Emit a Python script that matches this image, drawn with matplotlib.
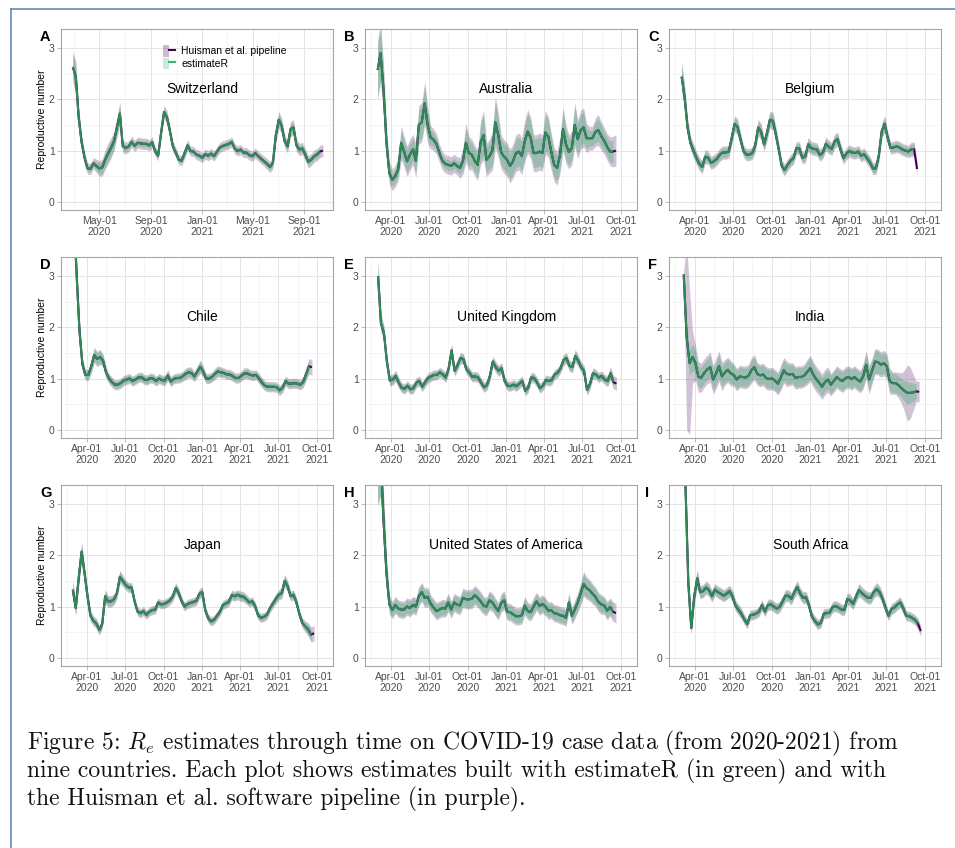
# -*- coding: utf-8 -*-
# Re estimates through time for nine countries (estimateR vs Huisman et al. pipeline)
import numpy as np
import pandas as pd
import matplotlib
matplotlib.use('Agg')
import matplotlib.pyplot as plt
import matplotlib.dates as mdates
from matplotlib.patches import Patch
from matplotlib.lines import Line2D
from matplotlib.legend_handler import HandlerTuple

plt.rcParams['font.family'] = ['Liberation Sans', 'DejaVu Sans']
plt.rcParams['mathtext.fontset'] = 'cm'

## Daten (wöchentliche Werte)
# Switzerland
ch_start = '2020-02-28'
ch_est = [2.63, 2.45, 1.65, 1.16, 0.86, 0.65, 0.64, 0.75, 0.70, 0.65,
          0.67, 0.82, 0.94, 1.05, 1.18, 1.45, 1.72, 1.08, 1.05, 1.08,
          1.17, 1.09, 1.15, 1.14, 1.13, 1.13, 1.10, 1.16, 0.98, 0.90,
          1.34, 1.75, 1.65, 1.38, 1.08, 0.96, 0.82, 0.80, 0.95, 1.10,
          0.99, 0.98, 0.92, 0.90, 0.86, 0.93, 0.90, 0.94, 0.89, 0.98,
          1.06, 1.09, 1.11, 1.13, 1.17, 1.04, 0.99, 1.02, 0.96, 0.96,
          0.91, 0.89, 0.95, 0.89, 0.84, 0.79, 0.74, 0.68, 0.76, 1.30,
          1.60, 1.48, 1.18, 1.08, 1.42, 1.45, 1.10, 1.02, 1.04, 0.92,
          0.78, 0.82, 0.89, 0.92, 0.98]
ch_hw = [0.25, 0.25, 0.15, 0.10, 0.07, 0.06, 0.06, 0.06, 0.08, 0.10,
         0.12, 0.14, 0.15, 0.15, 0.14, 0.15, 0.18, 0.08, 0.06, 0.06,
         0.06, 0.06, 0.06, 0.06, 0.06, 0.06, 0.06, 0.06, 0.05, 0.05,
         0.06, 0.08, 0.08, 0.07, 0.06, 0.05, 0.05, 0.05, 0.06, 0.06,
         0.05, 0.05, 0.05, 0.05, 0.05, 0.05, 0.05, 0.05, 0.05, 0.05,
         0.05, 0.05, 0.05, 0.05, 0.05, 0.05, 0.05, 0.05, 0.05, 0.05,
         0.05, 0.05, 0.05, 0.05, 0.05, 0.05, 0.06, 0.06, 0.07, 0.10,
         0.12, 0.10, 0.08, 0.08, 0.10, 0.10, 0.08, 0.07, 0.07, 0.07,
         0.07, 0.07, 0.07, 0.07, 0.07]
ch_tail = [1.0]

# Australia
au_start = '2020-03-01'
au_est = [2.57, 2.90, 2.20, 1.15, 0.55, 0.43, 0.50, 0.64, 1.15, 0.98,
          0.79, 0.92, 1.02, 0.80, 1.50, 1.55, 1.92, 1.50, 1.26, 1.21,
          1.13, 0.95, 0.80, 0.74, 0.72, 0.70, 0.75, 0.70, 0.66, 0.80,
          1.15, 0.95, 0.92, 0.80, 0.72, 1.16, 1.30, 0.82, 0.89, 1.00,
          1.55, 1.30, 0.96, 0.88, 0.82, 0.70, 0.79, 0.95, 0.98, 0.89,
          1.18, 1.37, 1.25, 0.95, 0.95, 0.98, 0.95, 1.35, 1.27, 0.98,
          0.72, 0.66, 0.92, 1.42, 1.12, 0.97, 1.05, 1.50, 1.22, 1.40,
          1.45, 1.24, 1.24, 1.24, 1.36, 1.40, 1.28, 1.19, 1.07, 0.98,
          0.98]
au_hw = [0.50, 0.50, 0.40, 0.25, 0.15, 0.13, 0.13, 0.15, 0.25, 0.22,
         0.22, 0.22, 0.22, 0.25, 0.30, 0.30, 0.35, 0.28, 0.15, 0.13,
         0.12, 0.10, 0.10, 0.10, 0.10, 0.10, 0.10, 0.10, 0.12, 0.18,
         0.30, 0.25, 0.22, 0.22, 0.22, 0.35, 0.40, 0.25, 0.25, 0.30,
         0.42, 0.35, 0.25, 0.25, 0.25, 0.25, 0.25, 0.28, 0.28, 0.28,
         0.32, 0.35, 0.32, 0.28, 0.28, 0.28, 0.28, 0.35, 0.32, 0.28,
         0.25, 0.25, 0.28, 0.35, 0.30, 0.25, 0.25, 0.35, 0.30, 0.30,
         0.30, 0.20, 0.15, 0.15, 0.20, 0.22, 0.20, 0.18, 0.18, 0.20,
         0.22]
au_tail = [1.0]

# Belgium
be_start = '2020-03-01'
be_est = [2.44, 2.05, 1.45, 1.15, 1.00, 0.86, 0.74, 0.68, 0.88, 0.86,
          0.76, 0.79, 0.84, 0.92, 0.96, 0.96, 0.98, 1.24, 1.52, 1.46,
          1.22, 0.99, 0.92, 0.92, 0.95, 1.10, 1.45, 1.37, 1.12, 1.34,
          1.60, 1.58, 1.32, 1.02, 0.70, 0.62, 0.72, 0.80, 0.85, 1.05,
          1.04, 0.86, 0.88, 1.12, 1.05, 1.03, 1.02, 0.91, 0.96, 1.13,
          1.07, 1.03, 1.18, 1.22, 1.02, 0.85, 0.94, 0.99, 0.96, 0.95,
          0.98, 0.90, 0.93, 0.85, 0.77, 0.65, 0.65, 0.90, 1.38, 1.52,
          1.25, 1.05, 1.06, 1.08, 1.06, 1.02, 1.00, 0.98, 1.02, 1.03]
be_hw = [0.25, 0.20, 0.15, 0.10, 0.10, 0.09, 0.09, 0.09, 0.10, 0.09,
         0.09, 0.09, 0.09, 0.09, 0.09, 0.09, 0.09, 0.10, 0.12, 0.12,
         0.10, 0.08, 0.08, 0.08, 0.08, 0.10, 0.12, 0.12, 0.10, 0.12,
         0.13, 0.13, 0.12, 0.10, 0.08, 0.08, 0.08, 0.08, 0.08, 0.09,
         0.09, 0.08, 0.08, 0.10, 0.09, 0.09, 0.09, 0.08, 0.08, 0.10,
         0.09, 0.09, 0.10, 0.10, 0.09, 0.08, 0.08, 0.08, 0.08, 0.08,
         0.08, 0.08, 0.08, 0.08, 0.08, 0.08, 0.08, 0.10, 0.12, 0.12,
         0.10, 0.08, 0.08, 0.08, 0.08, 0.08, 0.08, 0.08, 0.10, 0.10]
be_tail = [0.64]

# Chile
cl_start = '2020-03-01'
cl_est = [4.30, 3.05, 1.92, 1.27, 1.07, 1.07, 1.24, 1.46, 1.38, 1.42,
          1.35, 1.12, 1.00, 0.93, 0.88, 0.88, 0.91, 0.96, 0.98, 1.00,
          0.95, 0.98, 1.02, 1.03, 0.98, 0.97, 1.01, 1.00, 0.95, 1.00,
          0.97, 0.96, 1.06, 0.94, 0.99, 1.01, 1.01, 1.04, 1.09, 1.12,
          1.11, 1.04, 1.13, 1.23, 1.14, 1.00, 1.00, 1.03, 1.09, 1.14,
          1.12, 1.11, 1.08, 1.08, 1.05, 1.01, 1.01, 1.05, 1.10, 1.10,
          1.07, 1.06, 1.07, 1.00, 0.92, 0.86, 0.84, 0.84, 0.84, 0.83,
          0.77, 0.82, 0.95, 0.90, 0.90, 0.91, 0.90, 0.88, 0.93, 1.09,
          1.24]
cl_hw = [0.50, 0.30, 0.15, 0.10, 0.08, 0.08, 0.10, 0.12, 0.12, 0.12,
         0.10, 0.08, 0.07, 0.07, 0.07, 0.07, 0.07, 0.07, 0.07, 0.07,
         0.07, 0.07, 0.07, 0.07, 0.07, 0.07, 0.07, 0.07, 0.07, 0.07,
         0.07, 0.07, 0.08, 0.07, 0.07, 0.07, 0.07, 0.07, 0.08, 0.08,
         0.08, 0.07, 0.08, 0.10, 0.08, 0.07, 0.07, 0.07, 0.08, 0.08,
         0.08, 0.07, 0.07, 0.07, 0.07, 0.07, 0.07, 0.07, 0.08, 0.08,
         0.07, 0.07, 0.07, 0.07, 0.07, 0.07, 0.07, 0.07, 0.07, 0.07,
         0.07, 0.07, 0.07, 0.07, 0.07, 0.07, 0.07, 0.07, 0.08, 0.10,
         0.12]
cl_tail = [1.22]

# United Kingdom
uk_start = '2020-03-02'
uk_est = [3.00, 2.07, 1.89, 1.33, 0.96, 0.98, 1.05, 0.92, 0.82, 0.80,
          0.86, 0.79, 0.81, 0.92, 0.95, 0.84, 0.93, 1.01, 1.04, 1.07,
          1.07, 1.12, 1.08, 1.02, 1.20, 1.55, 1.15, 1.26, 1.40, 1.38,
          1.18, 1.12, 1.03, 1.04, 1.02, 0.92, 0.83, 0.87, 1.05, 1.33,
          1.22, 1.15, 1.20, 0.95, 0.86, 0.85, 0.88, 0.85, 0.90, 0.95,
          0.76, 0.82, 1.02, 1.01, 0.93, 0.81, 0.86, 0.97, 0.95, 0.97,
          1.08, 1.11, 1.20, 1.36, 1.40, 1.25, 1.22, 1.44, 1.35, 1.22,
          1.15, 0.78, 0.89, 1.10, 1.08, 1.02, 1.05, 0.98, 0.95, 1.10,
          0.93]
uk_hw = [0.30, 0.15, 0.12, 0.10, 0.08, 0.08, 0.08, 0.08, 0.07, 0.07,
         0.07, 0.07, 0.07, 0.07, 0.07, 0.07, 0.07, 0.07, 0.07, 0.07,
         0.07, 0.07, 0.07, 0.07, 0.08, 0.10, 0.08, 0.08, 0.08, 0.08,
         0.07, 0.07, 0.07, 0.07, 0.07, 0.07, 0.07, 0.07, 0.08, 0.08,
         0.08, 0.08, 0.08, 0.07, 0.07, 0.07, 0.07, 0.07, 0.07, 0.07,
         0.07, 0.07, 0.07, 0.07, 0.07, 0.07, 0.07, 0.07, 0.07, 0.07,
         0.07, 0.07, 0.07, 0.08, 0.08, 0.08, 0.08, 0.10, 0.08, 0.08,
         0.08, 0.08, 0.08, 0.08, 0.07, 0.07, 0.07, 0.07, 0.08, 0.10,
         0.10]
uk_tail = [0.90]

# India
in_start = '2020-03-06'
in_est = [3.03, 1.80, 1.30, 1.42, 1.30, 1.03, 1.02, 1.11, 1.18, 1.22,
          0.98, 1.10, 1.24, 1.04, 1.12, 1.17, 1.10, 1.07, 0.98, 1.04,
          1.03, 1.02, 1.05, 1.16, 1.22, 1.09, 1.06, 1.08, 1.01, 0.99,
          1.00, 0.96, 0.90, 1.02, 1.16, 1.09, 1.08, 1.09, 1.01, 1.03,
          1.03, 1.06, 1.13, 1.20, 1.08, 0.99, 0.92, 0.84, 0.93, 0.98,
          0.88, 0.95, 1.03, 0.98, 0.95, 1.01, 1.03, 0.99, 1.03, 0.98,
          0.94, 1.05, 1.27, 0.98, 1.15, 1.33, 1.32, 1.27, 1.30, 1.24,
          0.95, 0.91, 0.91, 0.87, 0.81, 0.76, 0.72, 0.72, 0.73, 0.75]
in_hw = [0.10, 0.30, 0.25, 0.25, 0.22, 0.20, 0.20, 0.20, 0.20, 0.22,
         0.20, 0.22, 0.22, 0.20, 0.20, 0.20, 0.20, 0.18, 0.18, 0.18,
         0.18, 0.18, 0.18, 0.20, 0.20, 0.18, 0.18, 0.18, 0.18, 0.18,
         0.18, 0.18, 0.18, 0.20, 0.20, 0.20, 0.18, 0.18, 0.18, 0.18,
         0.18, 0.18, 0.20, 0.20, 0.20, 0.18, 0.18, 0.18, 0.18, 0.18,
         0.18, 0.18, 0.18, 0.18, 0.18, 0.18, 0.18, 0.18, 0.18, 0.18,
         0.18, 0.20, 0.22, 0.22, 0.20, 0.22, 0.22, 0.20, 0.20, 0.20,
         0.20, 0.18, 0.18, 0.18, 0.18, 0.20, 0.22, 0.20, 0.18, 0.15]
in_hu_hw = [0.10, 1.80, 1.40, 0.50, 0.35, 0.30, 0.28, 0.28, 0.28, 0.30,
            0.28, 0.30, 0.30, 0.28, 0.25, 0.25, 0.25, 0.22, 0.22, 0.22,
            0.22, 0.22, 0.22, 0.25, 0.25, 0.22, 0.22, 0.22, 0.22, 0.22,
            0.22, 0.22, 0.22, 0.25, 0.25, 0.25, 0.22, 0.22, 0.22, 0.22,
            0.22, 0.22, 0.25, 0.25, 0.25, 0.25, 0.25, 0.25, 0.25, 0.25,
            0.22, 0.22, 0.22, 0.22, 0.22, 0.22, 0.22, 0.22, 0.22, 0.22,
            0.22, 0.25, 0.28, 0.28, 0.25, 0.25, 0.25, 0.25, 0.25, 0.25,
            0.25, 0.22, 0.22, 0.25, 0.30, 0.40, 0.55, 0.50, 0.35, 0.20]
in_tail = [0.74]

# Japan
jp_start = '2020-02-28'
jp_est = [1.33, 0.97, 1.55, 2.07, 1.65, 1.20, 0.82, 0.72, 0.67, 0.54,
          0.66, 1.20, 1.10, 1.10, 1.14, 1.26, 1.58, 1.50, 1.42, 1.37,
          1.37, 1.10, 0.90, 0.87, 0.91, 0.84, 0.90, 0.93, 0.94, 1.08,
          1.04, 1.05, 1.08, 1.12, 1.20, 1.36, 1.26, 1.10, 1.00, 1.05,
          1.07, 1.09, 1.11, 1.25, 1.28, 0.93, 0.77, 0.71, 0.74, 0.82,
          0.90, 1.03, 1.06, 1.09, 1.22, 1.20, 1.23, 1.20, 1.19, 1.14,
          1.08, 1.10, 1.00, 0.82, 0.78, 0.80, 0.84, 0.97, 1.06, 1.15,
          1.23, 1.26, 1.50, 1.40, 1.20, 1.23, 1.08, 0.85, 0.68, 0.61,
          0.55, 0.45]
jp_hw = [0.15, 0.12, 0.12, 0.15, 0.12, 0.10, 0.08, 0.07, 0.07, 0.07,
         0.07, 0.10, 0.09, 0.08, 0.08, 0.08, 0.10, 0.08, 0.07, 0.07,
         0.07, 0.06, 0.06, 0.06, 0.06, 0.06, 0.06, 0.06, 0.06, 0.06,
         0.06, 0.06, 0.06, 0.06, 0.07, 0.08, 0.07, 0.06, 0.06, 0.06,
         0.06, 0.06, 0.06, 0.07, 0.08, 0.06, 0.06, 0.06, 0.06, 0.06,
         0.06, 0.06, 0.06, 0.06, 0.07, 0.07, 0.07, 0.07, 0.07, 0.07,
         0.06, 0.06, 0.06, 0.06, 0.06, 0.06, 0.06, 0.06, 0.06, 0.07,
         0.07, 0.08, 0.10, 0.08, 0.07, 0.07, 0.07, 0.07, 0.07, 0.08,
         0.10, 0.12]
jp_tail = [0.48]

# United States of America
us_start = '2020-03-01'
us_est = [3.60, 4.00, 2.70, 1.65, 1.04, 0.93, 1.03, 0.96, 0.94, 0.94,
          1.00, 0.97, 1.03, 1.00, 1.20, 1.28, 1.17, 1.19, 1.06, 0.98,
          0.91, 0.94, 0.97, 0.96, 1.08, 0.94, 1.08, 1.04, 1.02, 1.17,
          1.14, 1.14, 1.15, 1.22, 1.17, 1.10, 1.02, 1.00, 1.12, 1.08,
          0.99, 0.91, 1.07, 1.12, 0.90, 0.89, 0.85, 0.81, 0.81, 0.83,
          1.02, 0.91, 0.89, 1.00, 1.10, 1.01, 1.05, 1.00, 0.92, 0.93,
          0.87, 0.86, 0.83, 0.82, 0.78, 1.08, 0.82, 0.94, 1.08, 1.25,
          1.44, 1.36, 1.32, 1.25, 1.19, 1.09, 1.04, 1.02, 0.92, 0.99,
          0.90]
us_hw = [0.60, 0.80, 0.50, 0.30, 0.15, 0.13, 0.13, 0.13, 0.13, 0.13,
         0.13, 0.13, 0.13, 0.13, 0.15, 0.15, 0.15, 0.15, 0.13, 0.13,
         0.13, 0.13, 0.13, 0.13, 0.14, 0.13, 0.14, 0.14, 0.14, 0.15,
         0.15, 0.15, 0.15, 0.15, 0.15, 0.15, 0.14, 0.14, 0.15, 0.14,
         0.14, 0.13, 0.14, 0.15, 0.13, 0.13, 0.13, 0.13, 0.13, 0.13,
         0.14, 0.13, 0.13, 0.14, 0.14, 0.14, 0.14, 0.14, 0.13, 0.13,
         0.13, 0.13, 0.13, 0.13, 0.13, 0.15, 0.13, 0.14, 0.15, 0.18,
         0.20, 0.18, 0.17, 0.16, 0.15, 0.15, 0.15, 0.14, 0.14, 0.14,
         0.15]
us_tail = [0.87]

# South Africa
sa_start = '2020-03-03'
sa_est = [5.00, 3.40, 1.45, 0.58, 1.20, 1.55, 1.28, 1.30, 1.37, 1.32,
          1.20, 1.33, 1.28, 1.25, 1.21, 1.25, 1.30, 1.20, 1.02, 0.94,
          0.86, 0.75, 0.66, 0.83, 0.84, 0.86, 0.90, 1.03, 0.90, 1.03,
          1.04, 1.00, 0.96, 0.99, 1.10, 1.21, 1.21, 1.15, 1.28, 1.38,
          1.25, 1.17, 1.18, 1.02, 0.80, 0.72, 0.65, 0.68, 0.86, 0.87,
          0.88, 0.99, 1.01, 0.98, 0.94, 0.93, 1.15, 1.12, 1.05, 1.20,
          1.32, 1.26, 1.21, 1.17, 1.17, 1.28, 1.34, 1.28, 1.15, 0.97,
          0.82, 0.95, 0.98, 1.04, 1.08, 0.97, 0.82, 0.81, 0.78, 0.74,
          0.67]
sa_hw = [0.50, 0.40, 0.20, 0.10, 0.12, 0.15, 0.10, 0.10, 0.10, 0.10,
         0.09, 0.09, 0.09, 0.09, 0.09, 0.09, 0.09, 0.09, 0.08, 0.08,
         0.08, 0.07, 0.07, 0.07, 0.07, 0.07, 0.07, 0.08, 0.07, 0.08,
         0.08, 0.08, 0.08, 0.08, 0.08, 0.09, 0.09, 0.09, 0.09, 0.10,
         0.09, 0.09, 0.09, 0.08, 0.07, 0.07, 0.07, 0.07, 0.07, 0.07,
         0.07, 0.08, 0.08, 0.08, 0.08, 0.08, 0.09, 0.09, 0.08, 0.09,
         0.10, 0.09, 0.09, 0.09, 0.09, 0.09, 0.10, 0.09, 0.09, 0.08,
         0.07, 0.08, 0.08, 0.08, 0.08, 0.08, 0.07, 0.07, 0.07, 0.07,
         0.08]
sa_tail = [0.52]

# (Name, Buchstabe, Start, estimateR, Halbbreite, Huisman-Halbbreite, Zusatz Huisman-Band, Huisman-Ende)
countries = [
    ('Switzerland', 'A', ch_start, ch_est, ch_hw, None, 0.05, ch_tail),
    ('Australia', 'B', au_start, au_est, au_hw, None, 0.08, au_tail),
    ('Belgium', 'C', be_start, be_est, be_hw, None, 0.04, be_tail),
    ('Chile', 'D', cl_start, cl_est, cl_hw, None, 0.03, cl_tail),
    ('United Kingdom', 'E', uk_start, uk_est, uk_hw, None, 0.03, uk_tail),
    ('India', 'F', in_start, in_est, in_hw, in_hu_hw, 0.0, in_tail),
    ('Japan', 'G', jp_start, jp_est, jp_hw, None, 0.03, jp_tail),
    ('United States of America', 'H', us_start, us_est, us_hw, None, 0.04, us_tail),
    ('South Africa', 'I', sa_start, sa_est, sa_hw, None, 0.03, sa_tail),
]

## Plot Optionen
W, H = 955, 848
col_left = [61, 365, 669]
row_top = [29, 257, 485]
pw, ph = 272, 181
purple = '#440154'
green_line = '#2e8b57'
green_fill = '#3cb371'
grid_major = '#e4e4e4'
grid_minor = '#eeeeee'
x_min = pd.Timestamp('2020-01-31')
x_max = pd.Timestamp('2021-11-08')

ticks_a = ['2020-05-01', '2020-09-01', '2021-01-01', '2021-05-01', '2021-09-01']
minor_a = ['2020-03-01', '2020-07-01', '2020-11-01', '2021-03-01', '2021-07-01', '2021-11-01']
ticks_q = ['2020-04-01', '2020-07-01', '2020-10-01', '2021-01-01', '2021-04-01', '2021-07-01', '2021-10-01']
minor_q = ['2020-02-15', '2020-05-16', '2020-08-16', '2020-11-15', '2021-02-15', '2021-05-16', '2021-08-16']

fig = plt.figure(figsize=(W / 100, H / 100), dpi=100)

for ii, (name, letter, start, est, hw, hu_hw, pad, tail) in enumerate(countries):
    r, c = divmod(ii, 3)
    ax = fig.add_axes([col_left[c] / W, 1 - (row_top[r] + ph) / H, pw / W, ph / H])

    est = np.array(est)
    hw = np.array(hw)
    dates = pd.date_range(start, periods=len(est), freq='7D')
    hu_dates = pd.date_range(start, periods=len(est) + len(tail), freq='7D')
    hu = np.concatenate([est, tail])
    if hu_hw is None:
        hu_band = np.concatenate([hw, [hw[-1]] * len(tail)]) + pad
    else:
        hu_band = np.concatenate([hu_hw, [hu_hw[-1]] * len(tail)])

    ax.fill_between(hu_dates, hu - hu_band, hu + hu_band, color=purple, alpha=0.24, lw=0)
    ax.fill_between(dates, est - hw, est + hw, color=green_fill, alpha=0.36, lw=0)
    ax.plot(hu_dates, hu, color=purple, lw=1.5, solid_capstyle='butt')
    ax.plot(dates, est, color=green_line, lw=1.5, solid_capstyle='butt')

    ax.text(pd.Timestamp('2021-01-01'), 2.2, name, ha='center', va='center', fontsize=10, color='black')

    if letter == 'A':
        major, minor = ticks_a, minor_a
    else:
        major, minor = ticks_q, minor_q
    ax.set_xticks(mdates.date2num(pd.to_datetime(major)))
    ax.set_xticks(mdates.date2num(pd.to_datetime(minor)), minor=True)
    ax.xaxis.set_major_formatter(mdates.DateFormatter('%b-%d\n%Y'))
    ax.set_yticks([0, 1, 2, 3])
    ax.set_yticks([0.5, 1.5, 2.5], minor=True)
    ax.set_xlim(x_min, x_max)
    ax.set_ylim(-0.16, 3.37)

    ax.grid(which='major', color=grid_major, lw=0.7)
    ax.grid(which='minor', color=grid_minor, lw=0.45)
    ax.set_axisbelow(True)
    ax.tick_params(which='major', length=3, width=0.6, color='#b0b0b0', labelsize=7.5,
                   labelcolor='#4d4d4d', pad=1.5)
    ax.tick_params(which='minor', length=0)
    for lab in ax.get_xticklabels():
        lab.set_linespacing(1.05)
    for sp in ax.spines.values():
        sp.set_color('#a6a6a6')
        sp.set_linewidth(0.8)

    if c == 0:
        ax.set_ylabel('Reproductive number', fontsize=7.5, color='black')
        ax.yaxis.set_label_coords(-0.05, 0.5)

    # Buchstabe
    dx = 1.5 if letter == 'I' else 5
    fig.text((col_left[c] - 26 + dx) / W, 1 - (row_top[r] + 1) / H, letter,
             fontsize=10.5, fontweight='bold', ha='left', va='top')

    if letter == 'A':
        hu_handle = (Patch(facecolor=purple, alpha=0.27, edgecolor='none'),
                     Line2D([], [], color=purple, lw=1.5))
        est_handle = (Patch(facecolor=green_fill, alpha=0.28, edgecolor='none'),
                      Line2D([], [], color=green_fill, lw=1.5))
        ax.legend([hu_handle, est_handle], ['Huisman et al. pipeline', 'estimateR'],
                  handler_map={tuple: HandlerTuple(ndivide=None)},
                  loc='upper left', bbox_to_anchor=((163 - 61) / pw, (210 - 45) / ph),
                  frameon=False, fontsize=7.5, handlelength=1.15, handleheight=1.35,
                  handletextpad=0.6, labelspacing=0.1, borderpad=0, borderaxespad=0)

# Rahmen
frame_col = '#5b7fb0'
fig.add_artist(Line2D([10.5 / W, 10.5 / W], [0, 1 - 8.5 / H], transform=fig.transFigure,
                      color=frame_col, lw=1.1))
fig.add_artist(Line2D([10.5 / W, 1], [1 - 8.5 / H, 1 - 8.5 / H], transform=fig.transFigure,
                      color=frame_col, lw=1.1))

# Bildunterschrift
caption = [
    'Figure 5: $R_e$ estimates through time on COVID-19 case data (from 2020-2021) from',
    'nine countries. Each plot shows estimates built with estimateR (in green) and with',
    'the Huisman et al. software pipeline (in purple).',
]
for jj, line in enumerate(caption):
    fig.text(27 / W, 1 - (743 + 28 * jj) / H, line, fontsize=17, family='cmr10',
             ha='left', va='center', color='#111111')

fig.savefig('out.png', dpi=100)
